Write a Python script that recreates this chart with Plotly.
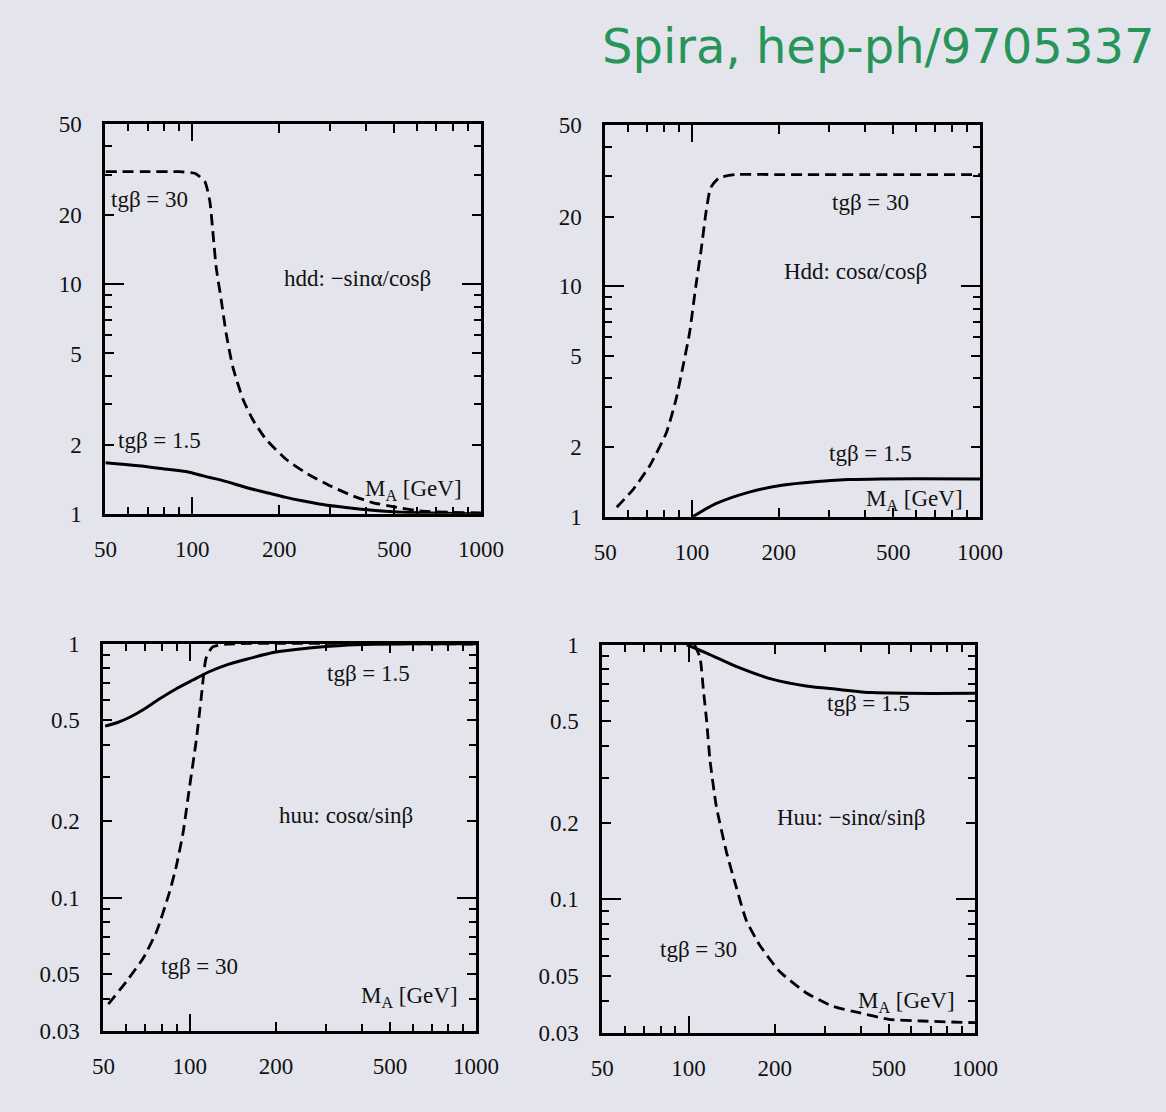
import math
import plotly.graph_objects as go

W, H = 1166, 1112
BG = "#e4e5ec"

# ---------------- data ----------------
x_ticks = [50, 100, 200, 500, 1000]
x_tick_text = ["50", "100", "200", "500", "1000"]
x_minor = [60, 70, 80, 90, 300, 400, 600, 700, 800, 900]

y_ticks_top = [1, 2, 5, 10, 20, 50]
y_tick_text_top = ["1", "2", "5", "10", "20", "50"]
y_minor_top = [3, 4, 6, 7, 8, 9, 30, 40]

y_ticks_bot = [0.03, 0.05, 0.1, 0.2, 0.5, 1]
y_tick_text_bot = ["0.03", "0.05", "0.1", "0.2", "0.5", "1"]
y_minor_bot = [0.04, 0.06, 0.07, 0.08, 0.09, 0.3, 0.4, 0.6, 0.7, 0.8, 0.9]

# panel 1: hdd  -sin(a)/cos(b)
hdd_tb30_x = [50, 70, 90, 102, 110.5, 115, 118, 121, 126, 131, 138, 150, 162, 180, 211, 247, 298, 358, 420, 505, 607, 800, 1000]
hdd_tb30_y = [31, 31, 31, 30.5, 28.1, 23, 16.5, 11.8, 8.5, 6.1, 4.38, 3.14, 2.57, 2.11, 1.73, 1.51, 1.33, 1.20, 1.12, 1.07, 1.03, 1.015, 1.01]
hdd_tb15_x = [50, 65, 80, 95, 110, 124, 140, 162, 185, 211, 240, 275, 320, 358, 466, 607, 800, 1000]
hdd_tb15_y = [1.67, 1.62, 1.57, 1.53, 1.46, 1.41, 1.35, 1.28, 1.23, 1.18, 1.14, 1.105, 1.076, 1.058, 1.027, 1.01, 1.004, 1.0]

# panel 2: Hdd  cos(a)/cos(b)
Hdd_tb30_x = [54.8, 62.6, 71.4, 81.5, 88, 93, 98, 103, 107.5, 112, 116, 124, 142, 200, 500, 1000]
Hdd_tb30_y = [1.10, 1.32, 1.67, 2.32, 3.23, 4.49, 6.25, 9.92, 14.3, 21.2, 26.7, 29.5, 30.5, 30.5, 30.5, 30.5]
Hdd_tb15_x = [100.6, 121, 158, 205, 267, 348, 453, 1000]
Hdd_tb15_y = [1.0, 1.14, 1.28, 1.37, 1.42, 1.45, 1.46, 1.46]

# panel 3: huu  cos(a)/sin(b)
huu_tb15_x = [50.7, 56, 62, 68.8, 78.6, 89.8, 102.6, 117, 134, 153, 200, 261, 340, 444, 600, 1000]
huu_tb15_y = [0.474, 0.49, 0.515, 0.55, 0.607, 0.665, 0.72, 0.776, 0.824, 0.861, 0.928, 0.962, 0.985, 0.995, 1.0, 1.0]
huu_tb30_x = [52, 60.3, 68.8, 76.6, 85, 89.8, 94.8, 99.9, 105.4, 109.7, 114, 120, 135, 1000]
huu_tb30_y = [0.0381, 0.047, 0.0578, 0.0735, 0.105, 0.133, 0.18, 0.273, 0.415, 0.611, 0.875, 0.97, 0.997, 0.997]

# panel 4: Huu  -sin(a)/sin(b)
Huu_tb15_x = [98.6, 115.6, 151, 197, 257, 335, 438, 1000]
Huu_tb15_y = [1.0, 0.928, 0.811, 0.731, 0.689, 0.668, 0.649, 0.645]
Huu_tb30_x = [105, 109.7, 112.6, 115.6, 118.8, 125, 135.7, 146.8, 159, 177, 208, 257, 318, 394, 500, 653, 1000]
Huu_tb30_y = [1.0, 0.888, 0.668, 0.503, 0.352, 0.232, 0.153, 0.1115, 0.0828, 0.0662, 0.0521, 0.043, 0.0381, 0.0359, 0.0338, 0.0333, 0.0328]

# ---------------- layout helpers ----------------
# the page shows the figure offset by the body margin and fitted to the viewport;
# map target screen pixels to paper fractions accordingly
OFF = 8
WE = W * 0.976
HE = H * 0.9856

def px(x):
    return (x - OFF) / WE

def py(y):
    return 1 - (y - OFF) / HE

# panel frames in screen pixels: (left, right, top, bottom)
frames = [
    (102, 480, 121, 514),
    (605, 982, 122, 517),
    (100, 475, 645, 1035),
    (602, 977, 646, 1037),
]

FONT = "Liberation Serif"
fig = go.Figure()

solid = dict(color="black", width=3, shape="spline", smoothing=0.9)
dashed = dict(color="black", width=2.8, dash="11px,6px", shape="spline", smoothing=0.5)

curves = [
    (1, hdd_tb15_x, hdd_tb15_y, solid),
    (1, hdd_tb30_x, hdd_tb30_y, dashed),
    (2, Hdd_tb15_x, Hdd_tb15_y, solid),
    (2, Hdd_tb30_x, Hdd_tb30_y, dashed),
    (3, huu_tb15_x, huu_tb15_y, solid),
    (3, huu_tb30_x, huu_tb30_y, dashed),
    (4, Huu_tb15_x, Huu_tb15_y, solid),
    (4, Huu_tb30_x, Huu_tb30_y, dashed),
]
for i, xs, ys, ln in curves:
    fig.add_trace(go.Scatter(x=xs, y=ys, mode="lines", line=ln,
                             xaxis=f"x{i}", yaxis=f"y{i}", showlegend=False,
                             hoverinfo="skip"))

axes = {}
for i, (l, r, t, b) in enumerate(frames, start=1):
    top = i <= 2
    yt = y_ticks_top if top else y_ticks_bot
    ytt = y_tick_text_top if top else y_tick_text_bot
    ym = y_minor_top if top else y_minor_bot
    yr = [0, math.log10(50)] if top else [math.log10(0.03), 0]
    ydec = [10] if top else [0.1]
    xd = [px(l), px(r)]
    yd = [py(b), py(t)]
    common = dict(showline=True, linecolor="black", linewidth=3, mirror="allticks",
                  ticks="inside", ticklen=9, tickwidth=2.2, tickcolor="black",
                  showgrid=False, zeroline=False,
                  tickfont=dict(family=FONT, size=23, color="#111"))
    axes[f"xaxis{i}"] = dict(common, type="log", domain=xd,
                             range=[math.log10(50), 3], anchor=f"y{i}",
                             tickmode="array", tickvals=x_ticks, ticktext=x_tick_text,
                             ticklabelstandoff=13,
                             minor=dict(tickmode="array", tickvals=x_minor, ticks="inside",
                                        ticklen=7, tickwidth=2.2, tickcolor="black"))
    axes[f"yaxis{i}"] = dict(common, type="log", domain=yd, range=yr, anchor=f"x{i}",
                             tickmode="array", tickvals=yt, ticktext=ytt,
                             ticklabelstandoff=16,
                             minor=dict(tickmode="array", tickvals=ym, ticks="inside",
                                        ticklen=7, tickwidth=2.2, tickcolor="black"))
    # overlay axes carrying only the long decade ticks
    j = i + 4
    axes[f"xaxis{j}"] = dict(type="log", domain=xd, range=[math.log10(50), 3],
                             overlaying=f"x{i}", anchor=f"y{j}", side="bottom",
                             showline=False, mirror="allticks", ticks="inside", ticklen=17,
                             tickwidth=2.4, tickcolor="black", showgrid=False, zeroline=False,
                             tickmode="array", tickvals=[100], showticklabels=False)
    axes[f"yaxis{j}"] = dict(type="log", domain=yd, range=yr,
                             overlaying=f"y{i}", anchor=f"x{j}", side="left",
                             showline=False, mirror="allticks", ticks="inside", ticklen=19,
                             tickwidth=2.4, tickcolor="black", showgrid=False, zeroline=False,
                             tickmode="array", tickvals=ydec, showticklabels=False)
    fig.add_trace(go.Scatter(x=[None], y=[None], xaxis=f"x{j}", yaxis=f"y{j}",
                             showlegend=False, hoverinfo="skip"))

# ---------------- text labels ----------------
TF = dict(family=FONT, size=23, color="#111")
labels = [
    ("tgβ = 30", 146, 197),
    ("hdd: −sinα/cosβ", 356, 277),
    ("tgβ = 1.5", 156, 440),
    ("M<sub>A</sub> [GeV]", 412, 490),
    ("tgβ = 30", 872, 200),
    ("Hdd: cosα/cosβ", 857, 270),
    ("tgβ = 1.5", 872, 453),
    ("M<sub>A</sub> [GeV]", 916, 500),
    ("tgβ = 1.5", 367, 675),
    ("huu: cosα/sinβ", 344, 818),
    ("tgβ = 30", 197, 970),
    ("M<sub>A</sub> [GeV]", 408, 1001),
    ("tgβ = 1.5", 870, 705),
    ("Huu: −sinα/sinβ", 853, 820),
    ("tgβ = 30", 699, 953),
    ("M<sub>A</sub> [GeV]", 908, 1006),
]
ann = []
for txt, x, y in labels:
    ann.append(dict(text=txt, x=px(x), y=py(y), xref="paper", yref="paper",
                    showarrow=False, xanchor="center", yanchor="middle", font=TF))
ann.append(dict(text="Spira, hep-ph/9705337", x=px(600), y=py(42), xref="paper", yref="paper",
                showarrow=False, xanchor="left", yanchor="middle",
                font=dict(family="DejaVu Sans", size=48, color="#27955a")))

fig.update_layout(
    width=W, height=H, autosize=False,
    margin=dict(l=0, r=0, t=0, b=0),
    paper_bgcolor=BG, plot_bgcolor=BG,
    showlegend=False,
    annotations=ann,
    **axes,
)

fig.write_html("out.html")
